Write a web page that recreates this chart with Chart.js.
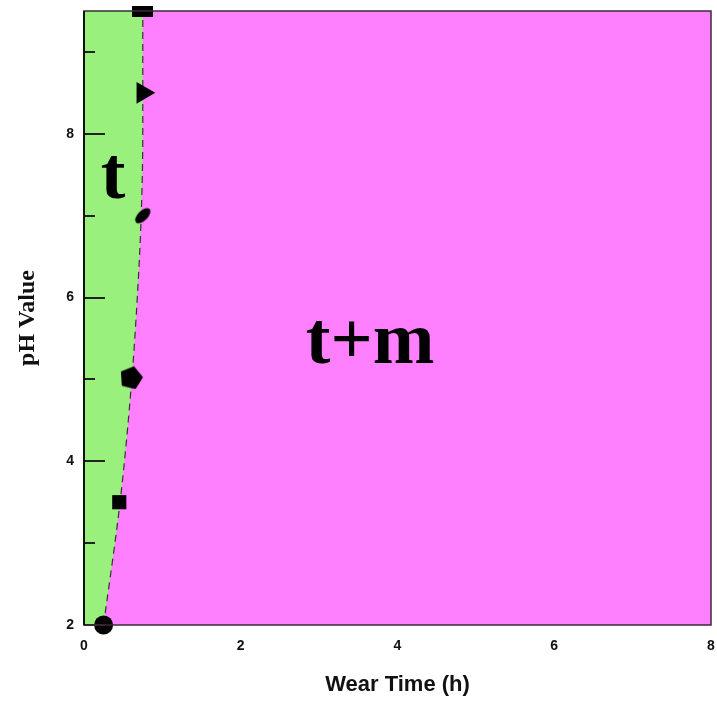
<!DOCTYPE html>
<html>
<head>
    <title>pH vs Wear Time</title>
    <style>
        body {
            margin: 0;
            padding: 0;
            background: #fff;
        }
    </style>
</head>
<body>
    <canvas id="phaseChart" width="717" height="707"></canvas>
    <script src="https://cdn.jsdelivr.net/npm/chart.js"></script>
    <script>
        // phase boundary between t and t+m
        var boundaryPH = [2, 3.5, 5, 6, 7, 8, 8.5, 9.5];
        var boundaryTime = [0.25, 0.46, 0.61, 0.68, 0.73, 0.75, 0.75, 0.75];

        // measured points on the boundary
        var markerTime = [0.25, 0.45, 0.6, 0.75, 0.75, 0.75];
        var markerPH = [2, 3.5, 5.03, 7, 8.5, 9.5];

        // region names
        var regionNames = ['t', 't+m'];
        var regionTime = [0.37, 3.65];
        var regionPH = [7.22, 5.2];

        var timeTicks = [0, 2, 4, 6, 8];
        var phTicks = [2, 4, 6, 8];

        var GREEN = '#9af07c';
        var MAGENTA = '#ff80ff';

        function toPoints(xs, ys) {
            return xs.map(function(x, i) { return {x: x, y: ys[i]}; });
        }

        function shape(w, h, draw) {
            var c = document.createElement('canvas');
            c.width = w;
            c.height = h;
            var g = c.getContext('2d');
            g.fillStyle = '#000';
            draw(g, w, h);
            return c;
        }

        var pentagon = shape(26, 25, function(g, w, h) {
            g.beginPath();
            for (var i = 0; i < 5; i++) {
                var a = -Math.PI / 2 + 0.25 + i * 2 * Math.PI / 5;
                var px = w / 2 + 12 * Math.cos(a);
                var py = h / 2 + 1 + 12 * Math.sin(a);
                if (i === 0) g.moveTo(px, py); else g.lineTo(px, py);
            }
            g.closePath();
            g.fill();
        });

        var tiltedEllipse = shape(20, 20, function(g, w, h) {
            g.beginPath();
            g.ellipse(w / 2, h / 2, 9.5, 5, -Math.PI / 4, 0, 2 * Math.PI);
            g.fill();
        });

        var wideRect = shape(21, 11, function(g, w, h) {
            g.fillRect(0, 0, w, h);
        });

        // fill both sides of the boundary line, using the line element's own path
        var phaseFill = {
            id: 'phaseFill',
            beforeDatasetsDraw: function(chart) {
                var ctx = chart.ctx;
                var a = chart.chartArea;
                var line = chart.getDatasetMeta(1).dataset;
                var pts = line.points;
                var first = pts[0];
                var last = pts[pts.length - 1];
                ctx.save();

                ctx.fillStyle = MAGENTA;
                ctx.fillRect(a.left, a.top, a.right - a.left, a.bottom - a.top);

                ctx.beginPath();
                line.path(ctx);
                ctx.lineTo(a.left, last.y);
                ctx.lineTo(a.left, first.y);
                ctx.closePath();
                ctx.fillStyle = GREEN;
                ctx.fill();
                ctx.restore();
            }
        };

        var frameAndLabels = {
            id: 'frameAndLabels',
            afterDatasetsDraw: function(chart) {
                var ctx = chart.ctx;
                var a = chart.chartArea;
                var xs = chart.scales.x;
                var ys = chart.scales.y;
                ctx.save();

                // inward tick marks on the pH axis
                ctx.strokeStyle = '#222';
                ctx.lineWidth = 2;
                for (var v = 2; v <= 9; v++) {
                    var py = Math.round(ys.getPixelForValue(v));
                    var len = v % 2 === 0 ? 21 : 11;
                    ctx.beginPath();
                    ctx.moveTo(a.left, py);
                    ctx.lineTo(a.left + len, py);
                    ctx.stroke();
                }

                // plot frame
                ctx.lineWidth = 1.5;
                ctx.strokeStyle = '#3a2a3a';
                ctx.strokeRect(a.left, a.top, a.right - a.left, a.bottom - a.top);
                ctx.lineWidth = 2;
                ctx.strokeStyle = '#111';
                ctx.beginPath();
                ctx.moveTo(a.left, a.top);
                ctx.lineTo(a.left, a.bottom);
                ctx.stroke();

                // region names
                ctx.fillStyle = '#000';
                ctx.font = 'bold 74px "Liberation Serif"';
                ctx.textAlign = 'center';
                ctx.textBaseline = 'alphabetic';
                regionNames.forEach(function(name, i) {
                    ctx.fillText(name, xs.getPixelForValue(regionTime[i]), ys.getPixelForValue(regionPH[i]));
                });
                ctx.restore();
            }
        };

        // let the tick labels hang over the plot edges instead of shrinking it
        function noEdgePadding(scale) {
            scale.paddingTop = 0;
            scale.paddingRight = 0;
            scale.paddingBottom = 0;
            scale.paddingLeft = 0;
        }

        var boundary = toPoints(boundaryTime, boundaryPH);

        new Chart(document.getElementById('phaseChart'), {
            type: 'scatter',
            data: {
                datasets: [
                    {
                        label: 'points',
                        data: toPoints(markerTime, markerPH),
                        pointStyle: ['circle', 'rect', pentagon, tiltedEllipse, 'triangle', wideRect],
                        pointRadius: [9.5, 10, 12, 10, 12.5, 10],
                        rotation: [0, 0, 0, 0, 90, 0],
                        backgroundColor: '#000',
                        borderColor: '#000',
                        borderWidth: 0,
                        clip: false,
                        order: 0
                    },
                    {
                        label: 'boundary',
                        data: boundary,
                        showLine: true,
                        cubicInterpolationMode: 'monotone',
                        pointRadius: 0,
                        borderWidth: 1.2,
                        borderColor: '#333',
                        borderDash: [7, 5],
                        fill: false,
                        order: 1
                    }
                ]
            },
            options: {
                responsive: false,
                animation: false,
                indexAxis: 'y',
                layout: {
                    autoPadding: false,
                    padding: {left: 0, right: 6, top: 11, bottom: 0}
                },
                plugins: {
                    legend: {display: false},
                    tooltip: {enabled: false}
                },
                scales: {
                    x: {
                        type: 'linear',
                        min: 0,
                        max: 8,
                        grid: {display: false, drawTicks: false},
                        border: {display: false},
                        afterBuildTicks: function(scale) {
                            scale.ticks = timeTicks.map(function(v) { return {value: v}; });
                        },
                        afterFit: function(scale) {
                            scale.height = 82;
                            noEdgePadding(scale);
                        },
                        ticks: {
                            padding: 13,
                            color: '#111',
                            font: {family: '"Liberation Sans"', size: 14, weight: 'bold'}
                        },
                        title: {
                            display: true,
                            text: 'Wear Time (h)',
                            color: '#111',
                            padding: {top: 0, bottom: 9},
                            font: {family: '"Liberation Sans"', size: 22, weight: 'bold'}
                        }
                    },
                    y: {
                        type: 'linear',
                        min: 2,
                        max: 9.5,
                        grid: {display: false, drawTicks: false},
                        border: {display: false},
                        afterBuildTicks: function(scale) {
                            scale.ticks = phTicks.map(function(v) { return {value: v}; });
                        },
                        afterFit: function(scale) {
                            scale.width = 84;
                            noEdgePadding(scale);
                        },
                        ticks: {
                            padding: 10,
                            color: '#111',
                            font: {family: '"Liberation Sans"', size: 14, weight: 'bold'}
                        },
                        title: {
                            display: true,
                            text: 'pH Value',
                            color: '#111',
                            padding: {top: 13, bottom: 0},
                            font: {family: '"Liberation Serif"', size: 24, weight: 'bold'}
                        }
                    }
                }
            },
            plugins: [phaseFill, frameAndLabels]
        });
    </script>
</body>
</html>
